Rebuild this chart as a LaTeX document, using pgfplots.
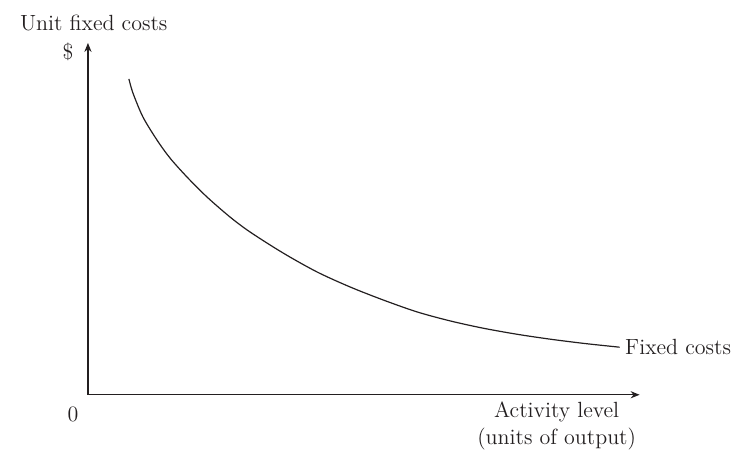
\documentclass[border=0pt]{standalone}
\usepackage{pgfplots}
\pgfplotsset{compat=1.18}
\usetikzlibrary{arrows.meta}
\definecolor{ink}{HTML}{231F20}

\begin{document}
\begin{tikzpicture}
  \begin{axis}[
    x=0.5pt, y=0.5pt,
    xmin=0, xmax=552,
    ymin=0, ymax=352,
    axis lines=left,
    axis line style={ink, line width=0.6pt, -{Stealth[length=4.5pt,width=3.6pt]}},
    xtick=\empty, ytick=\empty,
    clip=false,
    font=\fontsize{11}{13.5}\selectfont,
  ]
    % unit fixed cost curve (px from the origin)
    \addplot[ink, line width=0.6pt, smooth, tension=0.5] coordinates {
      (41,316) (45,302) (55,278) (69,255) (82,237) (99,218)
      (119,198) (142,178) (162,163) (195,142) (229,123)
      (262,108) (295,95) (329,83) (362,74) (395,66.7)
      (429,60.6) (462,55.7) (497,51.3) (532,47.6)
    } node[pos=1, right, inner sep=2.5pt, text=ink] {Fixed costs};

    \node[ink, anchor=west] at (axis cs:-75,372) {Unit fixed costs};
    \node[ink] at (axis cs:-20,343) {\$};
    \node[ink] at (axis cs:-15,-20) {0};
    \node[ink, align=center] at (axis cs:469,-31) {Activity level\\(units of output)};

    \path[use as bounding box] (axis cs:-88,-56) rectangle (axis cs:648,395);
  \end{axis}
\end{tikzpicture}
\end{document}
